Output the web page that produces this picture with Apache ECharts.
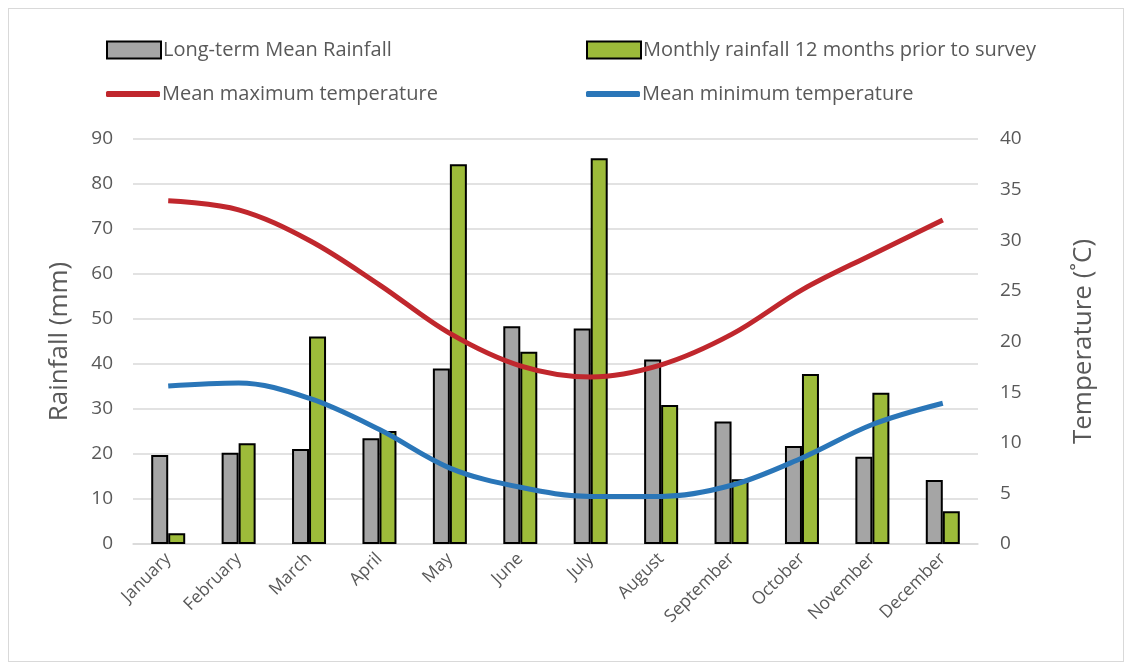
<!DOCTYPE html>
<html><head><meta charset="utf-8">
<script src="https://cdn.jsdelivr.net/npm/echarts@6/dist/echarts.min.js"></script>
<style>
html,body{margin:0;padding:0;background:#fff;}
#wrap{position:absolute;left:0;top:0;width:1131px;height:670px;}
#frame{position:absolute;left:8px;top:8px;width:1116px;height:654px;border:1px solid #d9d9d9;box-sizing:border-box;}
#c{position:absolute;left:0;top:0;width:1131px;height:670px;}
</style></head>
<body><div id="wrap"><div id="frame"></div><div id="c"></div></div>
<script>
const months = ['January','February','March','April','May','June','July','August','September','October','November','December'];
const longTermRain = [19.8,20.3,21.1,23.5,39.0,48.4,47.9,41.0,27.2,21.8,19.4,14.2];
const priorRain = [2.4,22.4,46.1,25.1,84.4,42.7,85.7,30.9,14.4,37.8,33.6,7.3];
const maxTemp = [33.9,33.0,30.0,25.6,20.8,17.6,16.5,17.7,20.7,25.1,28.6,32.0];
const minTemp = [15.6,15.9,14.4,11.3,7.5,5.6,4.7,4.7,5.8,8.5,11.8,13.9];
const rainTicks = {min:0,max:90,interval:10};
const tempTicks = {min:0,max:40,interval:5};

const txt = '#595959';
const font = 'Open Sans, Noto Sans, sans-serif';
const chart = echarts.init(document.getElementById('c'));
const legText = {color:txt,fontSize:20,fontFamily:font,padding:[0,0,0,-3]};
chart.setOption({
  animation:false,
  textStyle:{fontFamily:font},
  legend:[
    {data:[{name:'Long-term Mean Rainfall',itemStyle:{borderWidth:2}}],left:101,top:35,itemWidth:54,itemHeight:17,icon:'rect',textStyle:legText},
    {data:[{name:'Monthly rainfall 12 months prior to survey',itemStyle:{borderWidth:2}}],left:581,top:35,itemWidth:54,itemHeight:17,icon:'rect',textStyle:legText},
    {data:[{name:'Mean maximum temperature',icon:'roundRect',itemStyle:{borderWidth:0}}],left:101,top:79,itemWidth:54,itemHeight:6,textStyle:legText},
    {data:[{name:'Mean minimum temperature',icon:'roundRect',itemStyle:{borderWidth:0}}],left:581,top:79,itemWidth:54,itemHeight:6,textStyle:legText}
  ],
  grid:{left:133,right:153,top:139,bottom:126,containLabel:false},
  xAxis:{type:'category',data:months,
    axisLine:{lineStyle:{color:'#d9d9d9',width:1.5}},axisTick:{show:false},
    axisLabel:{rotate:45,color:txt,fontSize:17.5,fontFamily:font,margin:12,interval:0}},
  yAxis:[
    {type:'value',min:rainTicks.min,max:rainTicks.max,interval:rainTicks.interval,
     name:'Rainfall (mm)',nameLocation:'middle',nameGap:60,
     nameTextStyle:{color:txt,fontSize:26,fontFamily:font},
     axisLabel:{color:txt,fontSize:19,fontFamily:font,margin:20},
     axisLine:{show:false},axisTick:{show:false},
     splitLine:{lineStyle:{color:'#d9d9d9',width:1.5}}},
    {type:'value',min:tempTicks.min,max:tempTicks.max,interval:tempTicks.interval,
     name:'Temperature (˚C)',nameLocation:'middle',nameGap:93,nameRotate:90,
     nameTextStyle:{color:txt,fontSize:26,fontFamily:font},
     axisLabel:{color:txt,fontSize:19,fontFamily:font,margin:22},
     axisLine:{show:false},axisTick:{show:false},splitLine:{show:false}}
  ],
  series:[
    {name:'Long-term Mean Rainfall',type:'bar',data:longTermRain,barWidth:17,barGap:'0%',
     itemStyle:{color:'#a5a5a5',borderColor:'#000',borderWidth:2}},
    {name:'Monthly rainfall 12 months prior to survey',type:'bar',data:priorRain,barWidth:17,barGap:'0%',
     itemStyle:{color:'#9dbb3a',borderColor:'#000',borderWidth:2}},
    {name:'Mean maximum temperature',type:'line',yAxisIndex:1,data:maxTemp,smooth:0.35,showSymbol:false,symbol:'none',
     lineStyle:{color:'#c0272d',width:5},itemStyle:{color:'#c0272d'}},
    {name:'Mean minimum temperature',type:'line',yAxisIndex:1,data:minTemp,smooth:0.35,showSymbol:false,symbol:'none',
     lineStyle:{color:'#2a76b8',width:5},itemStyle:{color:'#2a76b8'}}
  ]
});
</script></body></html>
